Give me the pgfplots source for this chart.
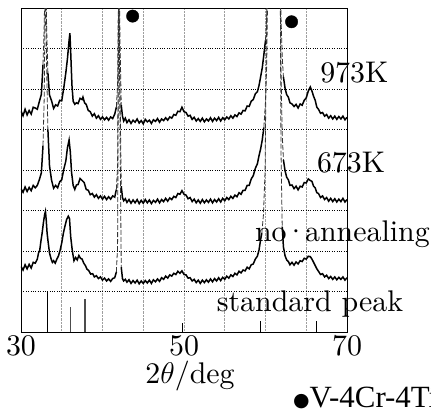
\RequirePackage{fix-cm}
\documentclass[border=0pt]{standalone}
\usepackage{pgfplots}
\pgfplotsset{compat=1.18}
\usepackage{fontspec}
\setmainfont{lmroman10-regular}[Extension=.otf]
\newfontfamily\timesfont{Liberation Serif}
\newfontfamily\dejavu{DejaVu Sans}
\begin{document}
\begin{tikzpicture}
\begin{axis}[
  scale only axis,
  width=326bp, height=324bp,
  xmin=30, xmax=70, ymin=0, ymax=8,
  xtick={30,35,...,70},
  xticklabels={30,,,,50,,,,70},
  ytick={0,1,...,8},
  yticklabels={},
  major tick length=0pt,
  grid=major,
  x grid style={densely dotted, gray!75, line width=0.6pt},
  y grid style={dotted, black, line width=0.6pt},
  axis line style={black, line width=0.8pt},
  xticklabel style={font=\fontsize{30}{36}\selectfont},
  /pgf/number format/assume math mode=true,
  clip mode=individual,
  unbounded coords=jump,
  thick/.style={black, line width=1.5bp},
  steep/.style={black!80, line width=0.8bp, dash pattern=on 5bp off 2bp},
]
% 973K
\addplot[thick] coordinates {
(30.00,5.46)(30.25,5.34)(30.50,5.50)(30.75,5.36)(31.00,5.47)(31.25,5.38)(31.50,5.55)(31.75,5.53)
(32.00,5.50)(32.25,5.69)(32.50,5.87)(32.70,6.60)(33.00,nan)(33.30,6.40)
(33.50,5.85)(33.75,5.71)(34.00,5.52)(34.25,5.61)(34.50,5.58)(34.75,5.72)(35.00,5.71)(35.25,6.03)
(35.50,6.40)(35.70,6.75)(35.90,7.20)(36.00,7.38)(36.10,6.90)(36.25,6.10)(36.40,5.70)(36.60,5.62)
(36.80,5.66)(37.00,5.64)(37.25,5.77)(37.50,5.74)(37.60,5.80)(37.80,5.66)(38.00,5.62)(38.25,5.47)
(38.50,5.44)(38.75,5.33)(39.00,5.39)(39.25,5.28)(39.50,5.34)(39.75,5.25)(40.00,5.31)(40.25,5.24)
(40.50,5.30)(40.75,5.23)(41.00,5.31)(41.25,5.27)(41.50,5.38)(41.70,5.55)(42.00,nan)
(42.30,5.60)(42.45,5.33)(42.60,5.21)(42.80,5.28)(43.00,5.17)(43.25,5.24)(43.50,5.15)
(43.75,5.23)(44.00,5.18)(44.25,5.26)(44.50,5.16)(44.75,5.22)(45.00,5.14)(45.25,5.25)(45.50,5.19)
(45.75,5.23)(46.00,5.15)(46.25,5.24)(46.50,5.20)(46.75,5.27)(47.00,5.18)(47.25,5.26)(47.50,5.22)
(47.75,5.29)(48.00,5.23)(48.25,5.31)(48.50,5.28)(48.75,5.37)(49.00,5.35)(49.25,5.45)(49.50,5.44)
(49.75,5.55)(50.00,5.44)(50.25,5.42)(50.50,5.33)(50.75,5.35)(51.00,5.25)(51.25,5.30)(51.50,5.21)
(51.75,5.27)(52.00,5.20)(52.25,5.28)(52.50,5.19)(52.75,5.26)(53.00,5.21)(53.25,5.29)(53.50,5.20)
(53.75,5.28)(54.00,5.22)(54.25,5.30)(54.50,5.21)(54.75,5.29)(55.00,5.24)(55.25,5.31)(55.50,5.26)
(55.75,5.34)(56.00,5.28)(56.25,5.36)(56.50,5.32)(56.75,5.41)(57.00,5.38)(57.25,5.47)(57.50,5.46)
(57.75,5.58)(58.00,5.57)(58.25,5.70)(58.50,5.74)(58.75,5.88)(59.00,5.93)(59.20,6.08)(59.40,6.30)
(59.60,6.52)(59.80,6.85)(60.00,7.20)(61.00,nan)(62.20,6.30)(62.40,6.02)(62.60,5.86)(62.80,5.80)(63.00,5.66)(63.25,5.63)(63.50,5.57)(63.75,5.62)
(64.00,5.53)(64.25,5.63)(64.50,5.60)(64.75,5.72)(65.00,5.78)(65.25,5.95)(65.50,6.05)(65.70,5.95)
(65.90,5.82)(66.10,5.72)(66.30,5.55)(66.50,5.50)(66.75,5.40)(67.00,5.42)(67.25,5.33)(67.50,5.37)
(67.75,5.28)(68.00,5.34)(68.25,5.26)(68.50,5.33)(68.75,5.25)(69.00,5.32)(69.25,5.26)(69.50,5.33)
(69.75,5.24)(70.00,5.30)
};
\addplot[steep] coordinates {(32.70,6.60)(32.85,7.60)(33.00,9.50)(33.15,7.50)(33.30,6.40)};
\addplot[steep] coordinates {(41.70,5.55)(41.85,6.10)(42.00,9.50)(42.15,7.20)(42.30,5.60)};
\addplot[steep] coordinates {(60.00,7.20)(60.15,7.80)(60.30,9.50)(61.80,9.50)(61.90,7.80)(62.05,6.80)(62.20,6.30)};
% 673K
\addplot[thick] coordinates {
(30.00,3.54)(30.25,3.45)(30.50,3.58)(30.75,3.47)(31.00,3.57)(31.25,3.49)(31.50,3.62)(31.75,3.56)
(32.00,3.62)(32.25,3.76)(32.50,3.93)(32.70,4.60)(33.00,nan)(33.30,5.00)
(33.50,4.10)(33.75,3.75)(34.00,3.55)(34.25,3.62)(34.50,3.56)(34.75,3.71)(35.00,3.76)(35.25,4.02)
(35.50,4.22)(35.70,4.55)(35.90,4.74)(36.05,4.45)(36.20,3.95)(36.40,3.62)(36.60,3.52)(36.80,3.63)
(37.00,3.64)(37.25,3.79)(37.50,3.74)(37.75,3.69)(38.00,3.52)(38.25,3.50)(38.50,3.39)(38.75,3.42)
(39.00,3.33)(39.25,3.39)(39.50,3.30)(39.75,3.36)(40.00,3.28)(40.25,3.35)(40.50,3.27)(40.75,3.34)
(41.00,3.28)(41.25,3.36)(41.50,3.33)(41.70,3.52)(42.00,nan)(42.30,3.60)
(42.45,3.32)(42.60,3.24)(42.80,3.29)(43.00,3.20)(43.25,3.27)(43.50,3.18)(43.75,3.26)(44.00,3.19)
(44.25,3.27)(44.50,3.17)(44.75,3.25)(45.00,3.18)(45.25,3.27)(45.50,3.19)(45.75,3.26)(46.00,3.17)
(46.25,3.25)(46.50,3.20)(46.75,3.28)(47.00,3.19)(47.25,3.27)(47.50,3.22)(47.75,3.30)(48.00,3.23)
(48.25,3.31)(48.50,3.27)(48.75,3.35)(49.00,3.32)(49.25,3.42)(49.50,3.40)(49.75,3.49)(50.00,3.40)
(50.25,3.38)(50.50,3.29)(50.75,3.32)(51.00,3.22)(51.25,3.28)(51.50,3.19)(51.75,3.26)(52.00,3.18)
(52.25,3.27)(52.50,3.19)(52.75,3.26)(53.00,3.20)(53.25,3.28)(53.50,3.19)(53.75,3.27)(54.00,3.21)
(54.25,3.29)(54.50,3.21)(54.75,3.30)(55.00,3.24)(55.25,3.32)(55.50,3.27)(55.75,3.35)(56.00,3.30)
(56.25,3.38)(56.50,3.34)(56.75,3.44)(57.00,3.40)(57.25,3.50)(57.50,3.50)(57.75,3.62)(58.00,3.62)
(58.25,3.78)(58.50,3.86)(58.75,4.04)(59.00,4.15)(59.20,4.35)(59.40,4.52)(59.60,4.74)(59.80,5.05)
(61.00,nan)(62.20,4.25)(62.40,3.98)
(62.60,3.82)(62.80,3.76)(63.00,3.62)(63.25,3.63)(63.50,3.54)(63.75,3.60)(64.00,3.51)(64.25,3.60)
(64.50,3.58)(64.75,3.69)(65.00,3.68)(65.25,3.78)(65.50,3.74)(65.70,3.72)(65.90,3.60)(66.10,3.56)
(66.30,3.44)(66.50,3.42)(66.75,3.32)(67.00,3.36)(67.25,3.27)(67.50,3.32)(67.75,3.23)(68.00,3.30)
(68.25,3.22)(68.50,3.29)(68.75,3.21)(69.00,3.28)(69.25,3.22)(69.50,3.30)(69.75,3.21)(70.00,3.27)
};
\addplot[steep] coordinates {(32.70,4.60)(32.85,5.80)(33.00,9.00)(33.15,6.50)(33.30,5.00)};
\addplot[steep] coordinates {(41.70,3.52)(41.85,4.10)(42.00,9.00)(42.15,6.00)(42.30,3.60)};
\addplot[steep] coordinates {(59.80,5.05)(60.00,5.70)(60.15,6.60)(60.30,9.00)(61.80,9.00)(61.90,6.50)(62.05,4.90)(62.20,4.25)};
% no annealing
\addplot[thick] coordinates {
(30.00,1.62)(30.25,1.53)(30.50,1.66)(30.75,1.56)(31.00,1.67)(31.25,1.58)(31.50,1.72)(31.75,1.70)
(32.00,1.80)(32.15,1.95)(32.30,2.02)(32.45,2.25)(32.60,2.45)(32.75,2.70)(32.90,2.90)(33.00,2.98)
(33.10,2.75)(33.20,2.45)(33.30,2.27)(33.50,1.95)(33.70,1.80)(33.85,1.72)(34.00,1.76)(34.20,1.70)
(34.40,1.80)(34.60,1.88)(34.80,2.02)(35.00,2.20)(35.20,2.44)(35.40,2.62)(35.60,2.78)(35.80,2.86)
(35.95,2.80)(36.10,2.35)(36.30,2.00)(36.50,1.76)(36.70,1.84)(36.90,1.78)(37.10,1.89)(37.30,1.82)
(37.50,1.80)(37.70,1.70)(37.90,1.64)(38.10,1.55)(38.30,1.52)(38.55,1.43)(38.80,1.44)(39.00,1.36)
(39.25,1.39)(39.50,1.32)(39.75,1.36)(40.00,1.28)(40.25,1.33)(40.50,1.26)(40.75,1.31)(41.00,1.25)
(41.25,1.32)(41.50,1.34)(41.70,1.48)(42.00,nan)(42.30,1.60)(42.45,1.32)
(42.60,1.26)(42.80,1.30)(43.00,1.23)(43.25,1.29)(43.50,1.20)(43.75,1.27)(44.00,1.21)(44.25,1.28)
(44.50,1.19)(44.75,1.26)(45.00,1.20)(45.25,1.27)(45.50,1.21)(45.75,1.28)(46.00,1.20)(46.25,1.29)
(46.50,1.24)(46.75,1.31)(47.00,1.25)(47.25,1.34)(47.50,1.30)(47.75,1.38)(48.00,1.33)(48.25,1.41)
(48.50,1.38)(48.75,1.45)(49.00,1.42)(49.25,1.50)(49.50,1.45)(49.75,1.51)(50.00,1.42)(50.25,1.41)
(50.50,1.33)(50.75,1.34)(51.00,1.26)(51.25,1.30)(51.50,1.22)(51.75,1.28)(52.00,1.20)(52.25,1.28)
(52.50,1.22)(52.75,1.29)(53.00,1.23)(53.25,1.31)(53.50,1.24)(53.75,1.32)(54.00,1.26)(54.25,1.34)
(54.50,1.27)(54.75,1.35)(55.00,1.30)(55.25,1.38)(55.50,1.33)(55.75,1.41)(56.00,1.37)(56.25,1.45)
(56.50,1.41)(56.75,1.50)(57.00,1.46)(57.25,1.53)(57.50,1.51)(57.75,1.60)(58.00,1.56)(58.25,1.66)
(58.50,1.68)(58.75,1.80)(59.00,1.87)(59.20,2.02)(59.40,2.28)(59.55,2.44)(61.00,nan)
(62.05,2.60)(62.20,2.10)(62.40,1.88)(62.60,1.78)(62.80,1.74)
(63.00,1.66)(63.25,1.72)(63.50,1.65)(63.75,1.73)(64.00,1.68)(64.25,1.76)(64.50,1.74)(64.75,1.82)
(65.00,1.80)(65.25,1.87)(65.50,1.86)(65.70,1.80)(65.90,1.72)(66.10,1.64)(66.30,1.56)(66.50,1.50)
(66.75,1.42)(67.00,1.44)(67.25,1.36)(67.50,1.40)(67.75,1.32)(68.00,1.37)(68.25,1.30)(68.50,1.36)
(68.75,1.29)(69.00,1.35)(69.25,1.30)(69.50,1.36)(69.75,1.28)(70.00,1.34)
};
\addplot[steep] coordinates {(41.70,1.48)(41.85,2.10)(42.00,9.00)(42.15,5.00)(42.30,1.60)};
\addplot[steep] coordinates {(59.55,2.44)(59.75,2.90)(59.95,4.00)(60.20,9.00)(61.80,9.00)(61.90,4.50)(62.05,2.60)};
% standard peaks
\addplot[ycomb, black, line width=0.9bp, mark=none] coordinates {
(33.30,0.98)(49.80,0.23)(59.40,0.27)(66.20,0.27)
};
\addplot[ycomb, black!70, line width=1.4bp, mark=none] coordinates {
(36.10,0.61)(37.85,0.81)
};
% V-4Cr-4Ti markers
\addplot[only marks, mark=*, mark size=6.2bp, black] coordinates {
(43.7,7.80)(63.2,7.66)
};
\node[anchor=base west, font=\fontsize{30}{36}\selectfont, inner sep=0pt] at (axis cs:66.7,6.15) {973K};
\node[anchor=base west, font=\fontsize{30}{36}\selectfont, inner sep=0pt] at (axis cs:66.3,3.95) {673K};
\node[anchor=base west, font=\fontsize{30}{36}\selectfont, inner sep=0pt] at (axis cs:58.7,2.23) {no\kern-0.08em·\kern-0.08em annealing};
\node[anchor=base west, font=\fontsize{30}{36}\selectfont, inner sep=0pt] at (axis cs:54.0,0.50) {standard peak};
\end{axis}
\node[anchor=base, font=\fontsize{30}{36}\selectfont, inner sep=0pt] at (169bp,-51bp) {2$\theta$/deg};
\node[anchor=base west, font=\timesfont\fontsize{31}{36}\selectfont, inner sep=0pt] at (272bp,-75bp) {\raisebox{1bp}{\dejavu\fontsize{19}{19}\selectfont ●}\kern0bp V-4Cr-4Ti};
\pgfresetboundingbox
\path[use as bounding box] (-21bp,-84bp) rectangle (410bp,332bp);
\end{tikzpicture}
\end{document}
